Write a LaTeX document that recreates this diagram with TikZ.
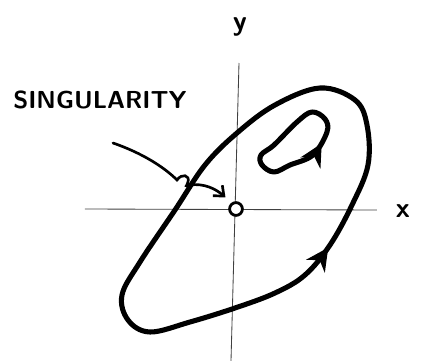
\documentclass[tikz,border=0pt]{standalone}
\usepackage{tikz}
\usetikzlibrary{arrows.meta,decorations.markings}

\begin{document}
\begin{tikzpicture}[scale=0.5,
        axis/.style={line width=0.6pt,black!75},
        orbit/.style={line width=3.6pt,line cap=round,line join=round},
        pointer/.style={line width=1.9pt,line cap=round,-{Straight Barb[length=6pt,width=10pt,line width=1.9pt]}},
        lbl/.style={font=\fontsize{20}{22}\selectfont\bfseries\sffamily},
        flow/.style={postaction={decorate},decoration={markings,
            mark=at position #1 with {\arrow{Stealth[length=16pt,width=16pt]}}}}]
    \useasboundingbox (-11.8,-7.6) rectangle (9.3,10.45);
    % axes
    \draw[axis] (-7.55,0) -- (7.05,-0.05);
    \draw[axis] (0.15,7.3) -- (-0.25,-7.6);
    \node[lbl] (ylab) at (0.2,9.1) {y};
    \node[lbl] (xlab) at (8.35,-0.1) {x};
    % singular point
    \node[circle,draw,line width=2pt,inner sep=0pt,minimum size=0.32cm,fill=white] (sing) at (0,0) {};
    \node[font=\fontsize{17.5}{20}\selectfont\bfseries\sffamily] (singlab) at (-6.8,5.45) {SINGULARITY};
    \coordinate (ptr) at (-6.15,3.3);
    \draw[pointer] (ptr) .. controls (-4.7,2.8) and (-3.6,2.1) .. (-2.95,1.45)
        .. controls (-2.7,1.8) and (-2.3,1.7) .. (-2.4,1.35)
        .. controls (-2.45,1.15) and (-2.6,1.1) .. (-2.3,1.2)
        .. controls (-1.6,1.3) and (-1.0,1.0) .. ([shift={(-0.25,0.3)}]sing.north west);
    % large orbit
    \draw[orbit,flow=0.095] plot[smooth cycle,tension=0.6] coordinates {
        (-0.05,-4.95) (1.95,-4.2) (3.45,-3.3) (4.7,-1.8) (5.8,0.2) (6.6,2.2)
        (6.55,4.2) (5.95,5.45) (4.2,6.05) (1.95,5.2) (0.05,3.8) (-1.55,2.2)
        (-3.05,-0.05) (-4.8,-2.65) (-5.7,-4.3) (-5.4,-5.55) (-4.3,-6.15) (-2.3,-5.65)};
    % small orbit
    \draw[orbit,flow=0.3] plot[smooth cycle,tension=0.6] coordinates {
        (1.3,2.2) (1.9,1.85) (2.7,2.2) (3.85,2.7) (4.55,3.85) (4.45,4.5)
        (3.8,4.85) (3.05,4.35) (1.9,3.2) (1.25,2.7)};
\end{tikzpicture}
\end{document}
